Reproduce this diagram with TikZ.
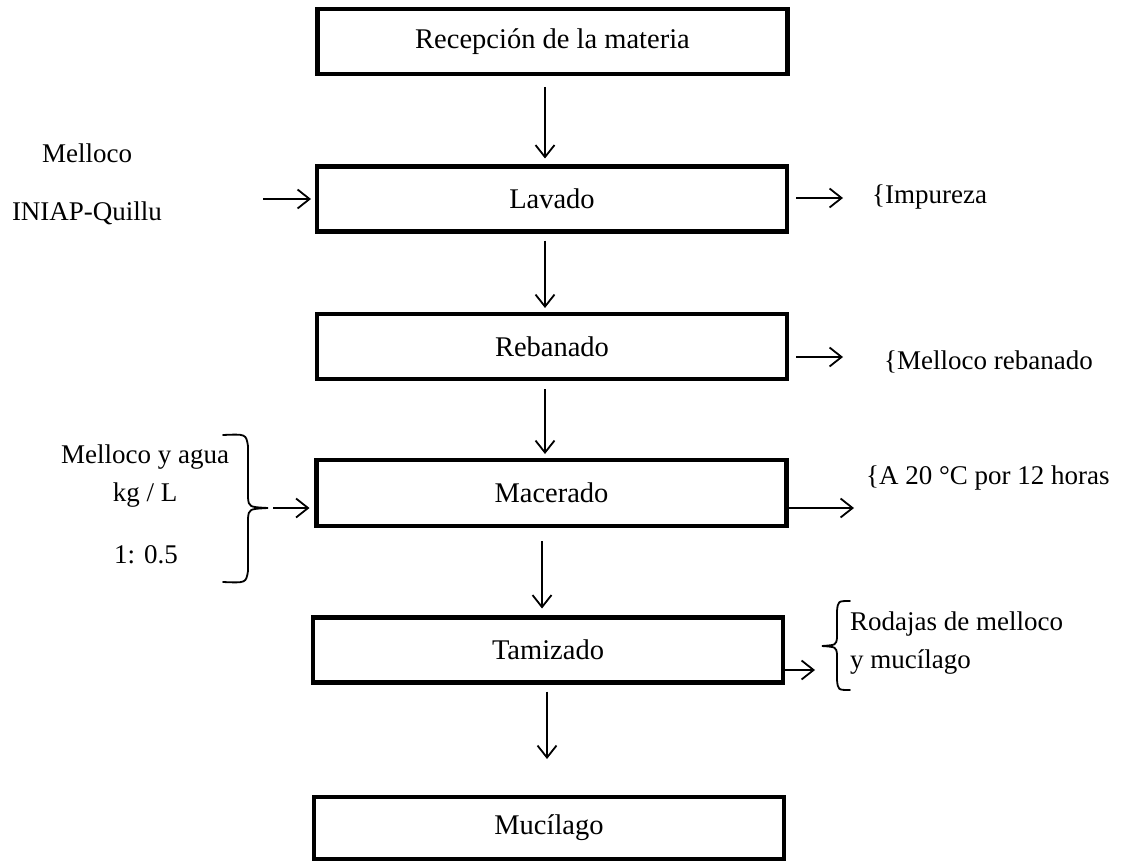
\documentclass[tikz,border=0pt]{standalone}
\usepackage{fontspec}
\setmainfont{Liberation Serif}
\usetikzlibrary{arrows.meta}
\begin{document}
\begin{tikzpicture}[x=1pt,y=-1pt,
  box/.style={draw, line width=4.8pt, minimum width=470pt, minimum height=65pt, inner sep=0pt, outer sep=0pt, font=\fontsize{28.5pt}{33pt}\selectfont},
  lbl/.style={inner sep=0pt, font=\fontsize{27pt}{32pt}\selectfont},
  arr/.style={line width=1.8pt, -{Straight Barb[length=12pt,width=19pt,line width=1.8pt]}},
  bracepath/.style={line width=1.8pt, line cap=round}]
\useasboundingbox (0,0) rectangle (1124,861);
\fill[white] (0,0) rectangle (1124,861);

% process boxes
\node[box] (rec) at (552.5,41.5) {Recepción de la materia};
\node[box] (lav) at (552,199) {Lavado};
\node[box] (reb) at (552,346.5) {Rebanado};
\node[box, minimum height=66pt] (mac) at (551.5,493) {Macerado};
\node[box] (tam) at (548,650) {Tamizado};
\node[box, minimum height=62pt] (muc) at (549,828) {Mucílago};

% side texts
\node[lbl] (mel) at (87,153) {Melloco};
\node[lbl] (ini) at (87,213) {INIAP-Quillu};
\node[lbl, anchor=west] (imp) at (872,197) {\{Impureza};
\node[lbl, anchor=west] (mreb) at (884,362) {\{Melloco rebanado};
\node[lbl, anchor=west] (temp) at (866,478) {\{A 20 °C por 12 horas};
\node[lbl] (mya) at (145,457) {Melloco y agua};
\node[lbl] (kgl) at (145,495) {kg / L};
\node[lbl] (rat) at (146,555) {1: 0.5};
\node[lbl, anchor=west] (rod) at (850,624) {Rodajas de melloco};
\node[lbl, anchor=west] (ymu) at (850,662) {y mucílago};

% vertical flow arrows
\coordinate (x1) at (545,0);
\coordinate (x4) at (542,0);
\coordinate (x5) at (547,0);
\draw[arr, shorten <=13pt, shorten >=8pt] (rec.south -| x1) -- (lav.north -| x1);
\draw[arr, shorten <=9pt, shorten >=6pt] (lav.south -| x1) -- (reb.north -| x1);
\draw[arr, shorten <=10pt, shorten >=6pt] (reb.south -| x1) -- (mac.north -| x1);
\draw[arr, shorten <=15pt, shorten >=9pt] (mac.south -| x4) -- (tam.north -| x4);
\draw[arr, shorten <=9pt, shorten >=38pt] (tam.south -| x5) -- (muc.north -| x5);

% inputs
\coordinate (inL) at (263,199);
\draw[arr, shorten >=6pt] (inL) -- (lav.west |- inL);
\coordinate (inM) at (273,508);
\draw[arr, shorten >=7pt] (inM) -- (mac.west |- inM);

% outputs
\coordinate (oL) at (843,198);
\draw[arr, shorten <=9pt] (lav.east |- oL) -- (oL);
\coordinate (oR) at (843,357);
\draw[arr, shorten <=9pt] (reb.east |- oR) -- (oR);
\coordinate (oM) at (854,508);
\draw[arr] (mac.east |- oM) -- (oM);
\coordinate (oT) at (815,670);
\draw[arr] (tam.east |- oT) -- (oT);

% left brace
\draw[bracepath] (223,435) .. controls (246,434) .. (248,446) -- (248,498)
  .. controls (249,507) .. (268,508) .. controls (249,509) .. (248,518)
  -- (248,571) .. controls (246,583) .. (223,582);
% right brace
\draw[bracepath] (850,601) .. controls (838,601) .. (837,611) -- (837,638)
  .. controls (836,645) .. (822,646) .. controls (836,647) .. (837,654)
  -- (837,680) .. controls (838,690) .. (850,690);
\end{tikzpicture}
\end{document}
